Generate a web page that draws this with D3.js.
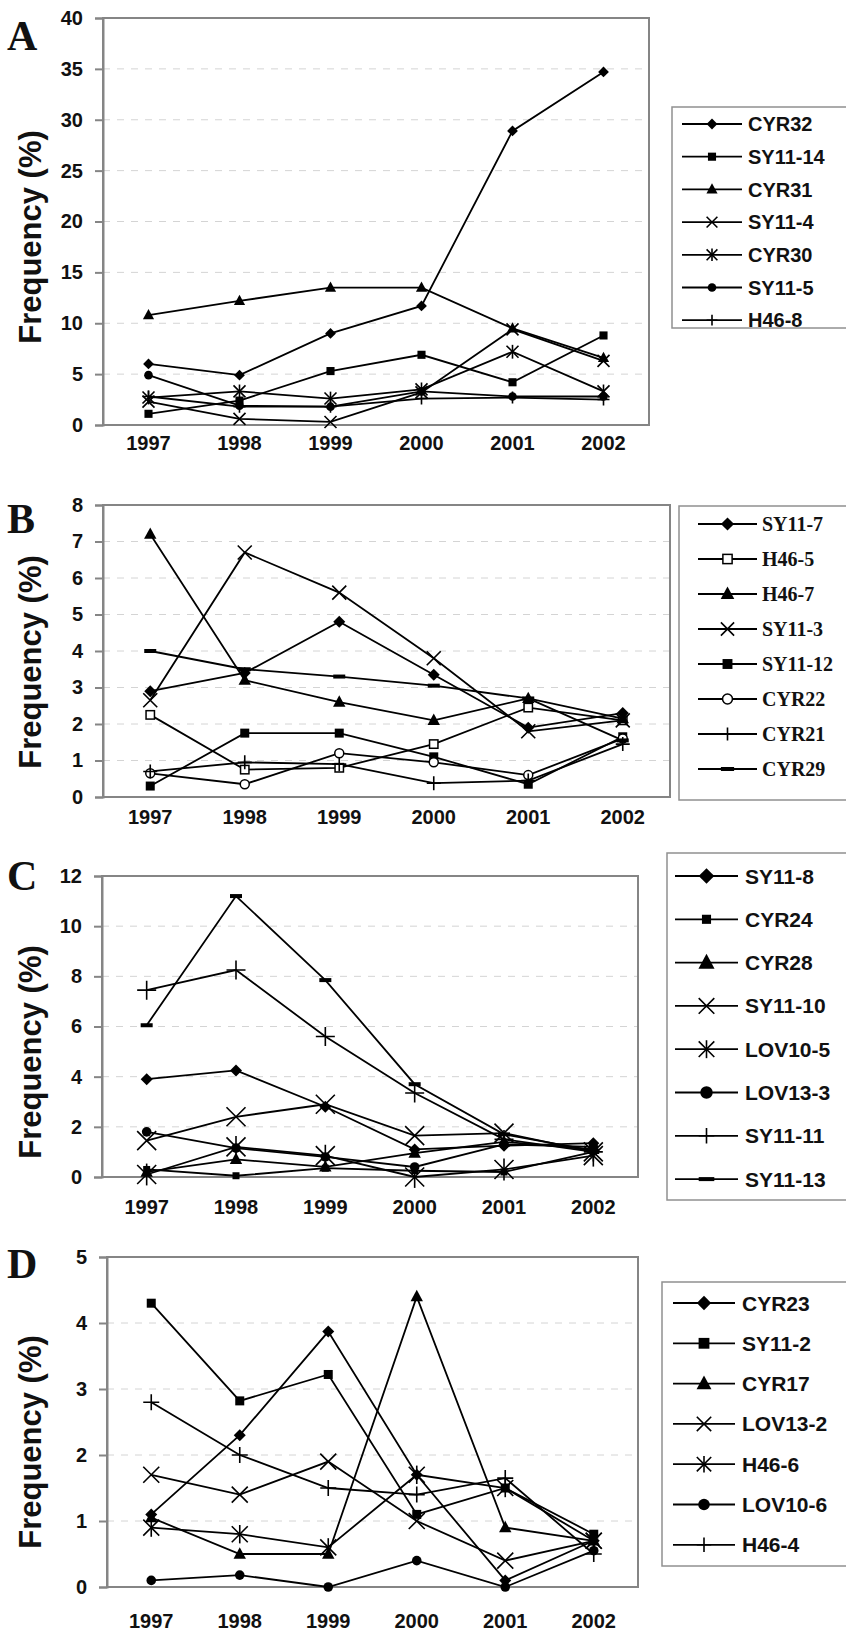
<!DOCTYPE html>
<html>
<head>
<meta charset="utf-8">
<script src="https://cdn.jsdelivr.net/npm/d3@7"></script>
<style>
  body { margin: 0; background: #fff; }
</style>
</head>
<body>
<svg id="chart" width="846" height="1633"></svg>
<script>
// ---------------- data ----------------
var years = ["1997", "1998", "1999", "2000", "2001", "2002"];

// panel A
var namesA = ["CYR32", "SY11-14", "CYR31", "SY11-4", "CYR30", "SY11-5", "H46-8"];
var valuesA = [
  [6.0, 4.9, 9.0, 11.7, 28.9, 34.7],
  [1.1, 2.4, 5.3, 6.9, 4.2, 8.8],
  [10.8, 12.2, 13.5, 13.5, 9.5, 6.6],
  [2.3, 0.6, 0.3, 3.2, 9.4, 6.3],
  [2.7, 3.3, 2.6, 3.5, 7.2, 3.3],
  [4.9, 1.9, 1.8, 3.3, 2.8, 2.8],
  [2.8, 1.8, 1.8, 2.6, 2.7, 2.5]
];
var ticksA = [0, 5, 10, 15, 20, 25, 30, 35, 40];

// panel B
var namesB = ["SY11-7", "H46-5", "H46-7", "SY11-3", "SY11-12", "CYR22", "CYR21", "CYR29"];
var valuesB = [
  [2.9, 3.4, 4.8, 3.35, 1.9, 2.3],
  [2.25, 0.75, 0.8, 1.45, 2.45, 2.1],
  [7.2, 3.2, 2.6, 2.1, 2.7, 2.15],
  [2.65, 6.7, 5.6, 3.8, 1.8, 2.1],
  [0.3, 1.75, 1.75, 1.1, 0.35, 1.65],
  [0.65, 0.35, 1.2, 0.95, 0.6, 1.6],
  [0.7, 0.95, 0.9, 0.38, 0.45, 1.45],
  [4.0, 3.5, 3.3, 3.05, 2.7, 1.55]
];
var ticksB = [0, 1, 2, 3, 4, 5, 6, 7, 8];

// panel C
var namesC = ["SY11-8", "CYR24", "CYR28", "SY11-10", "LOV10-5", "LOV13-3", "SY11-11", "SY11-13"];
var valuesC = [
  [3.9, 4.25, 2.8, 1.1, 1.25, 1.35],
  [0.3, 0.05, 0.35, 0.25, 0.2, 1.0],
  [0.2, 0.7, 0.4, 0.95, 1.4, 1.1],
  [1.45, 2.4, 2.9, 1.65, 1.75, 1.0],
  [0.1, 1.2, 0.85, 0.0, 0.3, 0.85],
  [1.8, 1.15, 0.8, 0.4, 1.3, 1.2],
  [7.45, 8.25, 5.6, 3.35, 1.5, 1.0],
  [6.05, 11.2, 7.85, 3.7, 1.7, 1.05]
];
var ticksC = [0, 2, 4, 6, 8, 10, 12];

// panel D
var namesD = ["CYR23", "SY11-2", "CYR17", "LOV13-2", "H46-6", "LOV10-6", "H46-4"];
var valuesD = [
  [1.1, 2.3, 3.87, 1.7, 0.1, 0.7],
  [4.3, 2.82, 3.22, 1.1, 1.5, 0.8],
  [1.05, 0.5, 0.5, 4.4, 0.9, 0.7],
  [1.7, 1.4, 1.9, 1.0, 0.4, 0.7],
  [0.9, 0.8, 0.6, 1.7, 1.5, 0.7],
  [0.1, 0.18, 0.0, 0.4, 0.0, 0.55],
  [2.8, 2.0, 1.5, 1.4, 1.65, 0.5]
];
var ticksD = [0, 1, 2, 3, 4, 5];

// ---------------- styles ----------------
var shapesA = ["diamond", "square", "triangle", "x", "asterisk", "circle", "plus"];
var shapesB = ["diamond", "opensquare", "triangle", "x", "square", "opencircle", "plus", "dash"];
var shapesC = ["diamond", "smallsquare", "triangle", "x", "asterisk", "circle", "plus", "dash"];
var shapesD = ["diamond", "square", "triangle", "x", "asterisk", "circle", "plus"];

var sans = "'Liberation Sans', Arial, Helvetica, sans-serif";
var serif = "'Liberation Serif', 'Times New Roman', serif";

var panels = [
  { letter: "A", names: namesA, values: valuesA, ticks: ticksA, shapes: shapesA,
    left: 103, right: 649, top: 18, bottom: 425, letterY: 50, labelY: 450, titleY: 237,
    solid: 9, cross: 12,
    legend: { x: 672, y: 107, h: 221, first: 124, dy: 32.7, l0: 682, l1: 742, tx: 748, font: sans, size: 20, ms: 9 } },
  { letter: "B", names: namesB, values: valuesB, ticks: ticksB, shapes: shapesB,
    left: 103, right: 670, top: 505, bottom: 797, letterY: 533, labelY: 824, titleY: 662,
    solid: 10, cross: 14,
    legend: { x: 679, y: 506, h: 294, first: 524, dy: 35, l0: 698, l1: 757, tx: 762, font: serif, size: 20, ms: 11 } },
  { letter: "C", names: namesC, values: valuesC, ticks: ticksC, shapes: shapesC,
    left: 102, right: 638, top: 876, bottom: 1177, letterY: 890, labelY: 1214, titleY: 1052,
    solid: 10, cross: 19,
    legend: { x: 667, y: 853, h: 347, first: 876, dy: 43.3, l0: 675, l1: 738, tx: 745, font: sans, size: 21, ms: 13 } },
  { letter: "D", names: namesD, values: valuesD, ticks: ticksD, shapes: shapesD,
    left: 107, right: 638, top: 1257, bottom: 1587, letterY: 1278, labelY: 1628, titleY: 1442,
    solid: 10, cross: 16,
    legend: { x: 662, y: 1282, h: 284, first: 1303, dy: 40.3, l0: 673, l1: 735, tx: 742, font: sans, size: 21, ms: 12 } }
];

var svg = d3.select("#chart");

// draw one marker centred at 0,0
function drawMarker(g, type, solid, cross) {
  var h;
  if (type == "diamond") {
    h = solid * 0.6;
    g.append("path").attr("d", "M0," + (-h) + "L" + h + ",0L0," + h + "L" + (-h) + ",0Z").attr("fill", "#000");
  } else if (type == "square" || type == "smallsquare") {
    h = type == "square" ? solid * 0.45 : solid * 0.35;
    g.append("rect").attr("x", -h).attr("y", -h).attr("width", 2 * h).attr("height", 2 * h).attr("fill", "#000");
  } else if (type == "opensquare") {
    h = solid * 0.42;
    g.append("rect").attr("x", -h).attr("y", -h).attr("width", 2 * h).attr("height", 2 * h)
      .attr("fill", "#fff").attr("stroke", "#000").attr("stroke-width", 1.5);
  } else if (type == "triangle") {
    h = solid * 0.62;
    g.append("path").attr("d", "M0," + (-h * 1.1) + "L" + h + "," + (h * 0.75) + "L" + (-h) + "," + (h * 0.75) + "Z").attr("fill", "#000");
  } else if (type == "circle") {
    g.append("circle").attr("r", solid * 0.48).attr("fill", "#000");
  } else if (type == "opencircle") {
    g.append("circle").attr("r", solid * 0.45).attr("fill", "#fff").attr("stroke", "#000").attr("stroke-width", 1.5);
  } else if (type == "x" || type == "asterisk") {
    h = cross / 2;
    g.append("path").attr("d", "M" + (-h) + "," + (-h) + "L" + h + "," + h + "M" + (-h) + "," + h + "L" + h + "," + (-h))
      .attr("stroke", "#000").attr("stroke-width", 1.6);
    if (type == "asterisk") {
      g.append("path").attr("d", "M0," + (-h * 1.15) + "L0," + (h * 1.15)).attr("stroke", "#000").attr("stroke-width", 1.6);
    }
  } else if (type == "plus") {
    h = cross / 2;
    g.append("path").attr("d", "M" + (-h) + ",0L" + h + ",0M0," + (-h) + "L0," + h)
      .attr("stroke", "#000").attr("stroke-width", 1.6);
  } else if (type == "dash") {
    g.append("rect").attr("x", -solid * 0.6).attr("y", -2).attr("width", solid * 1.2).attr("height", 4).attr("fill", "#000");
  }
}

panels.forEach(function (p) {
  var ymax = p.ticks[p.ticks.length - 1];

  var x = d3.scaleBand().domain(years).range([p.left, p.right]).padding(0);
  var y = d3.scaleLinear().domain([0, ymax]).range([p.bottom, p.top]);
  var cx = function (d) { return x(d) + x.bandwidth() / 2; };

  // grid lines
  svg.append("g").selectAll("line")
    .data(p.ticks.filter(function (t) { return t > 0 && t < ymax; }))
    .enter().append("line")
    .attr("x1", p.left).attr("x2", p.right)
    .attr("y1", function (d) { return y(d); }).attr("y2", function (d) { return y(d); })
    .attr("stroke", "#d4d4d4").attr("stroke-dasharray", "7,7").attr("stroke-width", 1);

  // frame
  svg.append("rect")
    .attr("x", p.left).attr("y", p.top)
    .attr("width", p.right - p.left).attr("height", p.bottom - p.top)
    .attr("fill", "none").attr("stroke", "#858585").attr("stroke-width", 2);

  // y axis
  var yAxis = svg.append("g")
    .attr("transform", "translate(" + p.left + ",0)")
    .call(d3.axisLeft(y).tickValues(p.ticks).tickFormat(d3.format("d")).tickSize(8).tickPadding(12));
  yAxis.select(".domain").attr("stroke", "#858585").attr("stroke-width", 2);
  yAxis.selectAll(".tick line").attr("stroke", "#858585").attr("stroke-width", 2);
  yAxis.selectAll("text")
    .style("font-family", sans).style("font-weight", "bold").style("font-size", "20px").attr("fill", "#111");

  // x labels
  svg.append("g").selectAll("text")
    .data(years).enter().append("text")
    .attr("x", cx).attr("y", p.labelY)
    .attr("text-anchor", "middle")
    .style("font-family", sans).style("font-weight", "bold").style("font-size", "20px")
    .attr("fill", "#111")
    .text(function (d) { return d; });

  // y title
  svg.append("text")
    .attr("transform", "translate(41," + p.titleY + ") rotate(-90)")
    .attr("text-anchor", "middle")
    .style("font-family", sans).style("font-weight", "bold").style("font-size", "31px")
    .attr("fill", "#111")
    .text("Frequency (%)");

  // panel letter
  svg.append("text")
    .attr("x", 7).attr("y", p.letterY)
    .style("font-family", serif).style("font-weight", "bold").style("font-size", "42px")
    .attr("fill", "#111")
    .text(p.letter);

  // lines
  var line = d3.line()
    .x(function (d, i) { return cx(years[i]); })
    .y(function (d) { return y(d); });

  svg.append("g").selectAll("path")
    .data(p.values).enter().append("path")
    .attr("d", function (d) { return line(d); })
    .attr("fill", "none").attr("stroke", "#000").attr("stroke-width", 1.8);

  // markers
  p.values.forEach(function (vals, si) {
    vals.forEach(function (v, i) {
      var g = svg.append("g").attr("transform", "translate(" + cx(years[i]) + "," + y(v) + ")");
      drawMarker(g, p.shapes[si], p.solid, p.cross);
    });
  });

  // legend
  var L = p.legend;
  svg.append("rect")
    .attr("x", L.x).attr("y", L.y).attr("width", 200).attr("height", L.h)
    .attr("fill", "#fff").attr("stroke", "#909090").attr("stroke-width", 1.5);

  p.names.forEach(function (name, i) {
    var ly = L.first + i * L.dy;
    svg.append("line")
      .attr("x1", L.l0).attr("x2", L.l1).attr("y1", ly).attr("y2", ly)
      .attr("stroke", "#000").attr("stroke-width", 1.8);
    var g = svg.append("g").attr("transform", "translate(" + ((L.l0 + L.l1) / 2) + "," + ly + ")");
    drawMarker(g, p.shapes[i], L.ms, L.ms * 1.2);
    svg.append("text")
      .attr("x", L.tx).attr("y", ly).attr("dy", "0.36em")
      .style("font-family", L.font).style("font-weight", "bold").style("font-size", L.size + "px")
      .attr("fill", "#111")
      .text(name);
  });
});
</script>
</body>
</html>
